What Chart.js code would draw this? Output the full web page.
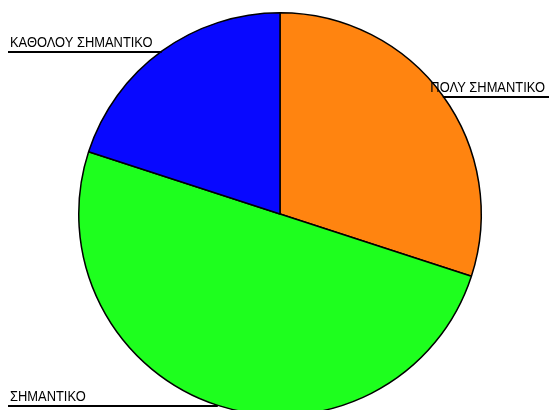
<!DOCTYPE html>
<html>
<head>
<meta charset="utf-8">
<script src="https://cdn.jsdelivr.net/npm/chart.js@4"></script>
<style>
  html, body { margin: 0; padding: 0; background: #fff; overflow: hidden; }
  #wrap { width: 549px; height: 418px; position: relative; }
</style>
</head>
<body>
<div id="wrap"><canvas id="c"></canvas></div>
<script>
// Pie of answers, labels sit on horizontal leader lines
const categories = ['ΠΟΛΥ ΣΗΜΑΝΤΙΚΟ', 'ΣΗΜΑΝΤΙΚΟ', 'ΚΑΘΟΛΟΥ ΣΗΜΑΝΤΙΚΟ'];
const values = [30, 50, 20];
const sliceColors = ['#ff8410', '#1eff1e', '#0808ff'];

const leaderLabels = {
    id: 'leaderLabels',
    afterDatasetsDraw(chart) {
        const ctx = chart.ctx;
        const meta = chart.getDatasetMeta(0);
        ctx.save();
        ctx.font = '15px "Liberation Sans", Arial, sans-serif';
        ctx.fillStyle = '#000';
        ctx.strokeStyle = '#000';
        ctx.lineWidth = 2;
        ctx.textBaseline = 'alphabetic';
        meta.data.forEach((arc, i) => {
            const p = arc.getProps(['x', 'y', 'startAngle', 'endAngle', 'outerRadius'], true);
            const mid = (p.startAngle + p.endAngle) / 2;
            const px = p.x + Math.cos(mid) * p.outerRadius;
            const py = Math.round(p.y + Math.sin(mid) * p.outerRadius) + 1;
            const right = Math.cos(mid) > 0;
            const endX = right ? chart.width : 8;
            ctx.beginPath();
            ctx.moveTo(px, py);
            ctx.lineTo(endX, py);
            ctx.stroke();
            // the original font is condensed, so squeeze it
            ctx.save();
            ctx.translate(right ? chart.width - 4 : 10, py - 5);
            ctx.scale(0.86, 1);
            ctx.textAlign = right ? 'right' : 'left';
            ctx.fillText(categories[i], 0, 0);
            ctx.restore();
        });
        ctx.restore();
    }
};

new Chart(document.getElementById('c'), {
    type: 'pie',
    data: {
        labels: categories,
        datasets: [{
            data: values,
            backgroundColor: sliceColors,
            borderColor: '#000',
            borderWidth: 1.5,
            clip: false
        }]
    },
    options: {
        responsive: true,
        maintainAspectRatio: false,
        animation: false,
        layout: { padding: { top: 12, bottom: 2, left: 78, right: 67 } },
        plugins: {
            legend: { display: false },
            tooltip: { enabled: false }
        }
    },
    plugins: [leaderLabels]
});
</script>
</body>
</html>
